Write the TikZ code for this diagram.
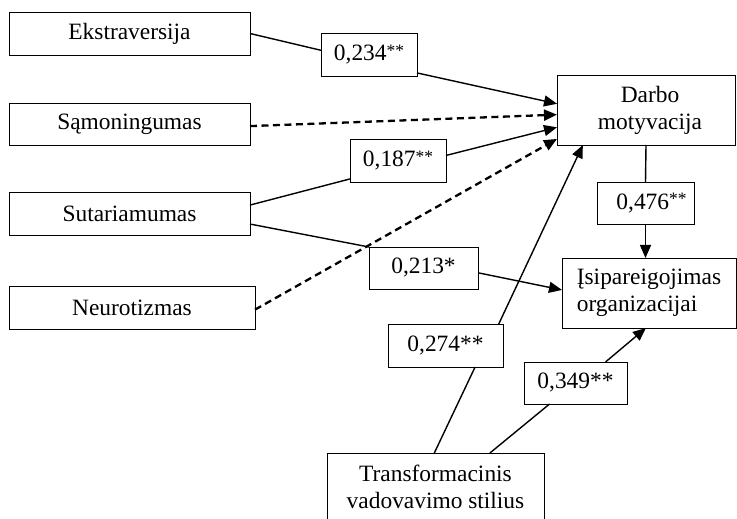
\documentclass[tikz,border=0pt]{standalone}
\usepackage{fontspec}
\setmainfont{Liberation Serif}
\usetikzlibrary{arrows.meta}
\newcommand{\supast}{\raisebox{4.5bp}{\fontsize{17.5}{17.5}\selectfont**}}
\begin{document}
\begin{tikzpicture}[x=1bp,y=-1bp,
  box/.style={draw,line width=0.9bp,inner sep=0pt,outer sep=0pt,font=\fontsize{23.5}{27}\selectfont},
  conn/.style={line width=1.4bp},
  arr/.style={-{Triangle[length=13bp,width=11bp]}},
  dsh/.style={line width=2.3bp,dash pattern=on 7bp off 4.5bp}
]
\useasboundingbox (0,0) rectangle (737,519);
% main boxes
\node[box,minimum width=241bp,minimum height=43bp] (ekstra) at (129.5,33.5) {Ekstraversija};
\node[box,minimum width=241bp,minimum height=42bp] (samon) at (129.5,124) {Sąmoningumas};
\node[box,minimum width=241bp,minimum height=43bp] (sutar) at (129.5,213.5) {Sutariamumas};
\node[box,minimum width=246bp,minimum height=43bp] (neuro) at (132,307.5) {Neurotizmas};
\node[box,minimum width=178bp,minimum height=70bp,align=center] (darbo) at (646,110) {\hspace*{8bp}Darbo\\\hspace*{8bp}motyvacija};
\node[box,minimum width=174bp,minimum height=70bp,align=left] (isip) at (649,293) {Įsipareigojimas\\organizacijai};
\node[box,minimum width=217bp,minimum height=68bp,align=center] (trans) at (435.5,487) {Transformacinis\\vadovavimo stilius};
% coefficient labels
\node[box,minimum width=96bp,minimum height=43bp] (l234) at (369,54.5) {0,234\supast};
\node[box,minimum width=96bp,minimum height=43bp] (l187) at (398,160.5) {0,187\supast};
\node[box,minimum width=109bp,minimum height=42bp] (l213) at (423.5,268) {0,213*};
\node[box,minimum width=115bp,minimum height=43bp] (l274) at (445.5,345.5) {0,274**};
\node[box,minimum width=103bp,minimum height=42bp] (l349) at (575.5,383) {0,349**};
\node[box,minimum width=97bp,minimum height=42bp] (l476) at (645.5,203) {\hspace*{12bp}0,476\supast};
% connectors
\draw[conn] (ekstra.east) -- (l234.175);
\draw[conn,arr] (l234.-21) -- (darbo.176);
\draw[dsh,arr] (samon.-1.4) -- (darbo.183);
\draw[conn] (sutar.4.5) -- (l187.201);
\draw[conn,arr] (l187.6.5) -- (darbo.191.4);
\draw[conn] (sutar.-5) -- (l213.north west);
\draw[conn,arr] (l213.-5.2) -- (isip.178.7);
\draw[dsh,arr] (neuro.-1.6) -- (darbo.198);
\draw[conn] (darbo.south) -- (l476.north);
\draw[conn,arr] (l476.south) -- (l476.south |- isip.north);
\draw[conn] (trans.92.5) -- (l274.-36);
\draw[conn,arr] (l274.22.7) -- (darbo.209);
\draw[conn] (trans.32.9) -- (l349.219.5);
\draw[conn,arr] (l349.35.4) -- (isip.265);
\end{tikzpicture}
\end{document}
